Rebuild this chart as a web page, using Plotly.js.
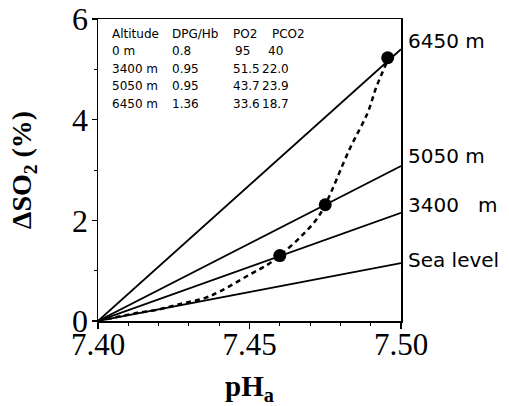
<!DOCTYPE html>
<html>
<head>
<meta charset="utf-8">
<script src="https://cdn.plot.ly/plotly-3.0.1.min.js"></script>
<style>html,body{margin:0;padding:0;background:#fff}#chart{width:509px;height:406px}</style>
</head>
<body>
<div id="chart"></div>
<script>
// Straight lines: deltaSO2 from pH 7.40 to 7.50
const lineLabels = ["Sea level", "3400\u00A0\u00A0\u00A0m", "5050 m", "6450 m"];
const lineStartPH = 7.40;
const lineEndPH = 7.50;
const lineEndValues = [1.15, 2.15, 3.08, 5.40];
const labelYValues = [1.22, 2.31, 3.27, 5.56];

// Dashed curve
const curvePH = [7.400, 7.404, 7.412, 7.420, 7.428, 7.435, 7.440, 7.450, 7.456, 7.460, 7.467, 7.472, 7.475, 7.483, 7.489, 7.492, 7.496];
const curveSO2 = [0, 0.05, 0.15, 0.23, 0.35, 0.45, 0.58, 0.92, 1.12, 1.30, 1.68, 2.01, 2.31, 3.41, 4.14, 4.67, 5.23];

// Filled points
const dotPH = [7.460, 7.475, 7.4956];
const dotSO2 = [1.30, 2.31, 5.23];

// Axis ticks
const xTickVals = [7.40, 7.45, 7.50];
const xTickText = ['7.40', '7.45', '7.50'];
const yTickVals = [0, 2, 4, 6];
const yTickText = ['0', '2', '4', '6'];

// Table
const tableHeader = ["Altitude", "DPG/Hb", "PO2", "PCO2"];
const tableAltitude = ["0 m", "3400 m", "5050 m", "6450 m"];
const tableDPG = ["0.8", "0.95", "0.95", "1.36"];
const tablePO2 = ["95", "51.5", "43.7", "33.6"];
const tablePCO2 = ["40", "22.0", "23.9", "18.7"];

const traces = [];
lineEndValues.forEach((v, i) => {
  traces.push({
    x: [lineStartPH, lineEndPH], y: [0, v], mode: 'lines',
    line: {color: '#000', width: 1.8}, hoverinfo: 'skip', showlegend: false
  });
});
traces.push({
  x: curvePH, y: curveSO2, mode: 'lines',
  line: {color: '#000', width: 2.5, dash: '5px,4px', shape: 'spline'},
  showlegend: false
});
traces.push({
  x: dotPH, y: dotSO2, mode: 'markers',
  marker: {color: '#000', size: 13}, showlegend: false
});

const annotations = [];
lineLabels.forEach((t, i) => {
  annotations.push({
    text: t, xref: 'paper', yref: 'y', x: 1, y: labelYValues[i],
    xanchor: 'left', yanchor: 'middle', xshift: 5, showarrow: false,
    font: {family: 'DejaVu Sans', size: 20, color: '#000'}
  });
});
const colPx = [109.3, 170, 230.7, 269.3];
const valColPx = [109.3, 170, 230.7, 260];
const rowPx = [34, 51.5, 69, 86.5, 104];
const toPX = px => (px - 97.7) / 303;
const toPY = py => (321.5 - py) / 302.5;
const tfont = {family: 'DejaVu Sans', size: 12, color: '#000'};
tableHeader.forEach((t, c) => {
  annotations.push({text: t, xref: 'paper', yref: 'paper', x: toPX(colPx[c]), y: toPY(rowPx[0]),
    xanchor: 'left', yanchor: 'middle', showarrow: false, font: tfont});
});
const cols = [tableAltitude, tableDPG, tablePO2, tablePCO2];
for (let r = 0; r < tableAltitude.length; r++) {
  cols.forEach((col, c) => {
    let px = valColPx[c];
    if (r === 0 && c === 2) px = 233;
    if (r === 0 && c === 3) px = 265.7;
    annotations.push({text: col[r], xref: 'paper', yref: 'paper', x: toPX(px), y: toPY(rowPx[r + 1]),
      xanchor: 'left', yanchor: 'middle', showarrow: false, font: tfont});
  });
}

const serif = 'Liberation Serif';
const layout = {
  width: 509, height: 406,
  margin: {l: 98, r: 108, t: 19, b: 85, pad: 0},
  paper_bgcolor: '#fff', plot_bgcolor: '#fff',
  showlegend: false,
  font: {family: serif, color: '#000'},
  xaxis: {
    range: [7.40, 7.50], tickvals: xTickVals, ticktext: xTickText,
    ticks: 'outside', ticklen: 6, tickwidth: 1.2, tickcolor: '#000',
    minor: {dtick: 0.01, tick0: 7.40, ticks: 'outside', ticklen: 3, tickcolor: '#000', tickwidth: 1},
    showline: true, linecolor: '#000', linewidth: 1.5, mirror: true,
    showgrid: false, zeroline: false,
    ticklabelstandoff: -11,
    tickfont: {family: serif, size: 31, color: '#000'},
    title: {text: '<b>pH<sub>a</sub></b>', font: {family: serif, size: 29, color: '#000'}, standoff: 15}
  },
  yaxis: {
    range: [0, 6], tickvals: yTickVals, ticktext: yTickText,
    ticks: 'outside', ticklen: 5, tickwidth: 1.2, tickcolor: '#000',
    minor: {dtick: 1, tick0: 0, ticks: 'outside', ticklen: 3, tickcolor: '#000', tickwidth: 1},
    showline: true, linecolor: '#000', linewidth: 1.5, mirror: true,
    showgrid: false, zeroline: false,
    ticklabelstandoff: -3,
    tickfont: {family: serif, size: 32, color: '#000'},
    title: {text: '<b>ΔSO<sub>2</sub> (%)</b>', font: {family: serif, size: 28, color: '#000'}, standoff: 32}
  },
  annotations: annotations
};
Plotly.newPlot('chart', traces, layout, {displayModeBar: false, staticPlot: true});
</script>
</body>
</html>
